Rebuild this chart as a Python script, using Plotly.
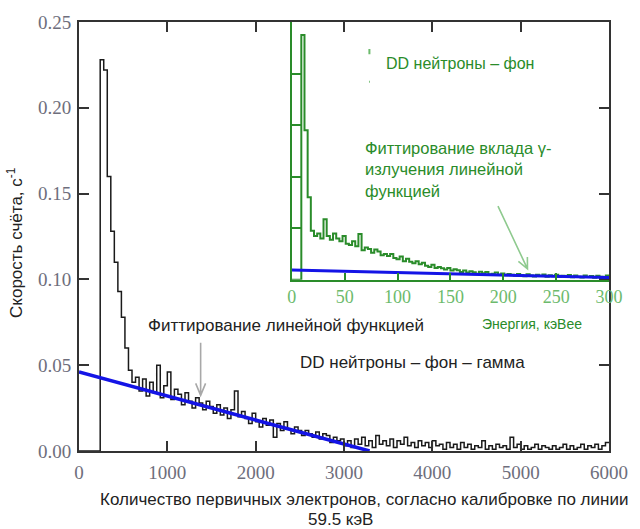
import numpy as np
import plotly.graph_objects as go

# ---------------- data ----------------
# main spectrum: count rate (1/s) per bin, bins of 40 primary electrons starting at 0
main_bin_width = 40
main_rates = [
    0, 0, 0, 0, 0, 0, 0.228, 0.222, 0.160, 0.128,
    0.110, 0.093, 0.078, 0.060, 0.047, 0.040,
    0.043, 0.035, 0.042, 0.032, 0.040, 0.034, 0.050, 0.031, 0.038, 0.046,
    0.030, 0.036, 0.033, 0.027, 0.034, 0.029, 0.025, 0.031, 0.028, 0.024,
    0.029, 0.026, 0.022, 0.027, 0.021, 0.025, 0.019, 0.024, 0.035, 0.020,
    0.023, 0.019, 0.016, 0.022, 0.017, 0.014, 0.019, 0.015, 0.018, 0.008,
    0.016, 0.012, 0.017, 0.013, 0.010, 0.014, 0.012, 0.009, 0.012, 0.010,
    0.008, 0.011, 0.007, 0.010, 0.009, 0.005, 0.008, 0.006, 0.007, 0.003,
    0.006, 0.002, 0.007, 0.004, 0.008, 0.003, 0.006, 0.002, 0.009, 0.004,
    0.006, 0.003, 0.007, 0.002, 0.006, 0.004, 0.008, 0.003, 0.005, 0.002,
    0.006, 0.003, 0.005, 0.002, 0.006, 0.003, 0.004, 0.001, 0.005, 0.002,
    0.004, 0.001, 0.005, 0.002, 0.004, 0.001, 0.003, 0.002, 0.006, 0.001,
    0.003, 0.001, 0.004, 0.002, 0.003, 0.001, 0.008, 0.002, 0.004, 0.001,
    0.003, 0.001, 0.002, 0.004, 0.001, 0.003, 0.002, 0.001, 0.003, 0.001,
    0.002, 0.004, 0.001, 0.003, 0.001, 0.002, 0.004, 0.001, 0.003, 0.002,
    0.004, 0.001, 0.003, 0.005,
]
# linear fit of the gamma contribution (main plot)
main_fit_x = [0, 3290]
main_fit_y = [0.046, 0.0]

# inset spectrum: relative rate per 3 keVee bin
inset_bin_width = 3
inset_rates = [
    0, 0, 0, 0.95, 0.58, 0.32, 0.19, 0.17, 0.18, 0.16,
    0.235, 0.17, 0.155, 0.18, 0.16, 0.15, 0.17, 0.14, 0.135, 0.15,
    0.13, 0.178, 0.115, 0.125, 0.12, 0.105, 0.118, 0.11, 0.095, 0.10,
    0.092, 0.10, 0.085, 0.08, 0.09, 0.072, 0.082, 0.07, 0.064, 0.072,
    0.06, 0.066, 0.055, 0.05, 0.058, 0.046, 0.05, 0.045, 0.04, 0.046,
    0.036, 0.041, 0.037, 0.03, 0.036, 0.028, 0.033, 0.029, 0.024, 0.031,
    0.026, 0.03, 0.021, 0.024, 0.028, 0.02, 0.025, 0.018, 0.023, 0.02,
    0.016, 0.023, 0.019, 0.014, 0.022, 0.017, 0.013, 0.02, 0.015, 0.021,
    0.012, 0.018, 0.014, 0.02, 0.011, 0.016, 0.013, 0.019, 0.01, 0.017,
    0.012, 0.009, 0.017, 0.011, 0.015, 0.008, 0.016, 0.012, 0.01, 0.017,
]
inset_fit_x = [0, 300]
inset_fit_y = [0.038, 0.009]

main_xticks = [0, 1000, 2000, 3000, 4000, 5000, 6000]
main_yticks = [0.00, 0.05, 0.10, 0.15, 0.20, 0.25]
inset_xticks = [0, 50, 100, 150, 200, 250, 300]
inset_yticks = [0, 0.2, 0.4, 0.6, 0.8, 1.0]

# ---------------- build ----------------
def step_xy(vals, w):
    edges = np.arange(len(vals) + 1) * w
    return edges, list(vals) + [vals[-1]]

mx, my = step_xy(main_rates, main_bin_width)
ix, iy = step_xy(inset_rates, inset_bin_width)

GREEN = "#2a8c2a"
LGREEN = "#6cba6c"
SANS = "Liberation Sans, Arial, sans-serif"
SERIF = "Liberation Serif, Times New Roman, serif"

fig = go.Figure()
fig.add_trace(go.Scatter(x=mx, y=my, mode="lines", line=dict(color="#1a1a1a", width=1.5, shape="hv"),
                         xaxis="x", yaxis="y", showlegend=False))
fig.add_trace(go.Scatter(x=main_fit_x, y=main_fit_y, mode="lines", line=dict(color="#1414e6", width=3.5),
                         xaxis="x", yaxis="y", showlegend=False))
fig.add_trace(go.Scatter(x=ix, y=iy, mode="lines", line=dict(color=GREEN, width=2, shape="hv"),
                         xaxis="x2", yaxis="y2", showlegend=False))
fig.add_trace(go.Scatter(x=inset_fit_x, y=inset_fit_y, mode="lines", line=dict(color="#1414e6", width=3),
                         xaxis="x2", yaxis="y2", showlegend=False))

tickfont_main = dict(family=SERIF, size=19, color="#6e6e7c")

fig.update_layout(
    width=640, height=529,
    margin=dict(l=79, r=23, t=20, b=78),
    paper_bgcolor="white", plot_bgcolor="rgba(0,0,0,0)",
    xaxis=dict(domain=[0, 1], range=[0, 6000], tickvals=main_xticks, ticks="inside", ticklen=10,
               tickwidth=2, tickcolor="#333", showline=True, linecolor="#333", linewidth=2,
               mirror="ticks", showgrid=False, zeroline=False, tickfont=tickfont_main,
               ticklabelstandoff=3),
    yaxis=dict(domain=[0, 1], range=[0, 0.25], tickvals=main_yticks, tickformat=".2f", ticks="inside",
               ticklen=10, tickwidth=2, tickcolor="#333", showline=True, linecolor="#333", linewidth=2,
               mirror="ticks", showgrid=False, zeroline=False, tickfont=tickfont_main,
               ticklabelstandoff=2),
    xaxis2=dict(domain=[0.4015, 1.0], anchor="y2", range=[0, 300], tickvals=inset_xticks, ticks="inside",
                ticklen=7, tickwidth=2, tickcolor=GREEN, showline=True, linecolor=GREEN, linewidth=2,
                showgrid=False, zeroline=False, tickfont=dict(family=SERIF, size=18, color=LGREEN),
                ticklabelstandoff=0),
    yaxis2=dict(domain=[0.399, 1.0], anchor="x2", range=[0, 1], tickvals=inset_yticks, ticks="inside",
                ticklen=9, tickwidth=2, tickcolor=GREEN, showline=True, linecolor=GREEN, linewidth=2,
                showticklabels=False, showgrid=False, zeroline=False),
)

def ann(text, x, y, size, color, xanchor="center", angle=0, align="center"):
    fig.add_annotation(text=text, x=x, y=y, xref="paper", yref="paper", showarrow=False,
                       xanchor=xanchor, yanchor="middle", textangle=angle, align=align,
                       font=dict(family=SANS, size=size, color=color))

ann("Скорость счёта, с<sup>-1</sup>", -0.121, 0.487, 17, "#222", angle=-90)
ann("Количество первичных электронов, согласно калибровке по линии", 0.537, -0.114, 17, "#222")
ann("59.5 кэВ", 0.4926, -0.160, 17, "#222")
ann("Фиттирование линейной функцией", 0.390, 0.2923, 17, "#222")
ann("DD нейтроны – фон – гамма", 0.630, 0.2065, 17, "#222")
ann("DD нейтроны – фон", 0.7193, 0.9026, 16, GREEN)
ann("Фиттирование вклада γ-<br>излучения линейной<br>функцией", 0.5353, 0.6566, 16.5, GREEN,
    xanchor="left", align="left")
ann("Энергия, кэВее", 0.855, 0.297, 14, GREEN)

# arrows (open V heads)
fig.add_shape(type="path", xref="x", yref="y", path="M 1377 0.0631 L 1377 0.0324 M 1321 0.0394 L 1377 0.0324 L 1433 0.0394",
              line=dict(color="#a8a8a8", width=1.6))
fig.add_shape(type="path", xref="x2", yref="y2",
              path="M 195 0.286 L 222.9 0.0425 M 222.8 0.0888 L 222.9 0.0425 L 214.3 0.0718",
              line=dict(color="#8fca8f", width=1.6))
# small legend remnants near inset label
fig.add_shape(type="line", xref="x2", yref="y2", x0=73.4, x1=73.4, y0=0.875, y1=0.895,
              line=dict(color=LGREEN, width=2))
fig.add_shape(type="line", xref="x2", yref="y2", x0=73.0, x1=73.8, y0=0.768, y1=0.768,
              line=dict(color=LGREEN, width=2))

fig.write_html("out.html", config={"displayModeBar": False},
               post_script="document.body.style.margin='0px';")
